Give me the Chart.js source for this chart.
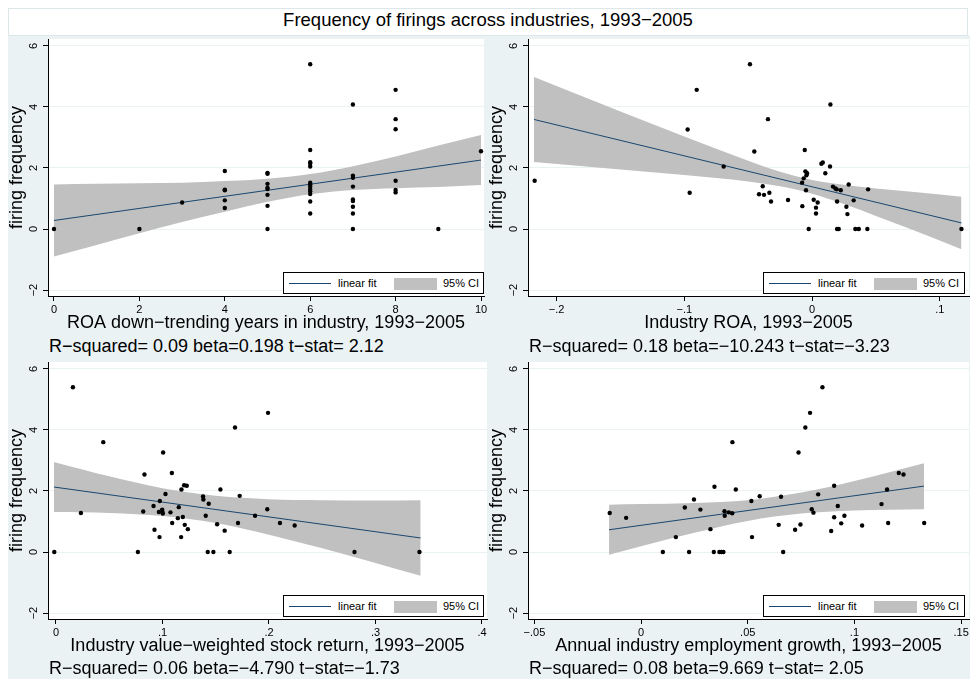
<!DOCTYPE html>
<html>
<head>
<meta charset="utf-8">
<title>Frequency of firings across industries</title>
<script src="https://cdn.jsdelivr.net/npm/chart.js@4.4.0/dist/chart.umd.min.js"></script>
<style>
    body { margin: 0; width: 970px; height: 679px; overflow: hidden; background: #fff; position: relative;
           font-family: "Liberation Sans", Arial, Helvetica, sans-serif; color: #000; }
    #bg { position: absolute; left: 8px; top: 35px; width: 962px; height: 644px; background: #eaf2f3; }
    #titleBand { position: absolute; left: 8px; top: 8px; width: 960px; height: 28px; background: #fff;
                 border: 1px solid #dde7e9; box-sizing: border-box; }
    #mainTitle { position: absolute; left: 8px; top: 11px; width: 960px; text-align: center; font-size: 18.5px; line-height: 18px; }
    canvas { position: absolute; }
    .note { position: absolute; font-size: 18px; line-height: 18px; white-space: nowrap; }
    .legend { position: absolute; height: 22px; background: #fff; border: 1px solid #000; box-sizing: border-box; font-size: 11px; }
    .legend .ln { position: absolute; left: 5px; top: 10px; width: 42px; border-top: 1px solid #1a476f; }
    .legend .sw { position: absolute; left: 110px; top: 5px; width: 43px; height: 12px; background: #c0c0c0; }
    .legend span { position: absolute; top: 4px; line-height: 13px; }
</style>
</head>
<body>
<div id="bg"></div>
<div id="titleBand"></div>
<div id="mainTitle">Frequency of firings across industries, 1993−2005</div>

<canvas id="p1" width="496" height="301" style="left:0px;top:35px"></canvas>
<canvas id="p2" width="501" height="301" style="left:480px;top:35px"></canvas>
<canvas id="p3" width="499" height="301" style="left:0px;top:358px"></canvas>
<canvas id="p4" width="501" height="301" style="left:480px;top:358px"></canvas>

<div class="legend" style="left:283px;top:272px;width:201px"><div class="ln"></div><span style="left:54px">linear fit</span><div class="sw"></div><span style="left:159px">95% CI</span></div>
<div class="legend" style="left:763px;top:272px;width:202px"><div class="ln"></div><span style="left:54px">linear fit</span><div class="sw"></div><span style="left:159px">95% CI</span></div>
<div class="legend" style="left:283px;top:595px;width:201px"><div class="ln"></div><span style="left:54px">linear fit</span><div class="sw"></div><span style="left:159px">95% CI</span></div>
<div class="legend" style="left:763px;top:595px;width:202px"><div class="ln"></div><span style="left:54px">linear fit</span><div class="sw"></div><span style="left:159px">95% CI</span></div>

<div class="note" style="left:49px;top:337px">R−squared= 0.09 beta=0.198 t−stat= 2.12</div>
<div class="note" style="left:529px;top:337px">R−squared= 0.18 beta=−10.243 t−stat=−3.23</div>
<div class="note" style="left:49px;top:659px">R−squared= 0.06 beta=−4.790 t−stat=−1.73</div>
<div class="note" style="left:529px;top:659px">R−squared= 0.08 beta=9.669 t−stat= 2.05</div>

<script>
// shared y axis
const yTicks = [-2, 0, 2, 4, 6];
const yTickLabels = ['−2', '0', '2', '4', '6'];

// Panel 1: ROA down-trending years
const downYears = [0, 2, 3, 4, 4, 4, 4, 4, 5, 5, 5, 5, 5, 5, 5, 5,
    6, 6, 6, 6, 6, 6, 6, 6, 6, 6, 6, 6, 6, 7, 7, 7, 7, 7, 7, 7, 7, 7,
    8, 8, 8, 8, 8, 8, 9, 10];
const downYearsFreq = [0, 0, 0.87, 1.90, 1.29, 1.27, 0.94, 0.69, 1.84, 1.81, 1.48, 1.35, 1.31, 1.12, 0.76, 0,
    5.40, 2.59, 2.19, 2.14, 2.05, 1.52, 1.46, 1.39, 1.31, 1.24, 1.15, 0.90, 0.51,
    4.08, 1.75, 1.68, 1.39, 0.97, 0.92, 0.73, 0.51, 0,
    4.56, 3.60, 3.27, 1.58, 1.28, 1.20, 0, 2.55];
const downFitX = [0, 10];
const downFitY = [0.28, 2.26];
const downCiX = [0, 1, 2, 3, 4, 5, 6, 7, 8, 9, 10];
const downCiHigh = [1.46, 1.48, 1.50, 1.52, 1.57, 1.65, 1.80, 2.06, 2.38, 2.74, 3.08];
const downCiLow = [-0.90, -0.52, -0.14, 0.23, 0.57, 0.89, 1.14, 1.28, 1.34, 1.38, 1.44];
const downXTicks = [0, 2, 4, 6, 8, 10];
const downXLabels = ['0', '2', '4', '6', '8', '10'];

// Panel 2: industry ROA
const indRoa = [-0.2172, -0.0974, -0.0958, -0.0903, -0.0692, -0.0486, -0.0452, -0.0415, -0.0386, -0.0376,
    -0.0345, -0.0334, -0.0321, -0.0188, -0.0078, -0.0076, -0.0065, -0.0057, -0.0052, -0.0044,
    -0.0039, -0.0047, -0.0026, 0.0013, 0.0031, 0.0031, 0.0044, 0.0073, 0.0084, 0.0104,
    0.0141, 0.0144, 0.0164, 0.0183, 0.0193, 0.0196, 0.0196, 0.0209, 0.0225, 0.0269,
    0.0277, 0.0287, 0.0326, 0.0339, 0.0366, 0.0433, 0.0439, 0.117];
const indRoaFreq = [1.58, 3.26, 1.19, 4.56, 2.05, 5.40, 2.54, 1.14, 1.40, 1.12,
    3.60, 1.19, 0.90, 0.95, 1.52, 0.75, 1.66, 2.59, 1.89, 1.76,
    1.83, 1.27, 0, 0.96, 0.70, 0.51, 0.87, 2.14, 2.18, 1.83,
    2.05, 4.08, 1.39, 1.33, 1.30, 0.90, 0, 0, 1.27, 0.73,
    0.49, 1.46, 0.94, 0, 0, 0, 1.30, 0];
const roaFitX = [-0.2177, 0.117];
const roaFitY = [3.59, 0.20];
const roaCiX = [-0.2177, -0.15, -0.1, -0.05, -0.025, 0, 0.025, 0.05, 0.08, 0.117];
const roaCiHigh = [4.98, 3.85, 3.03, 2.24, 1.88, 1.61, 1.45, 1.33, 1.21, 1.06];
const roaCiLow = [2.20, 1.95, 1.77, 1.56, 1.40, 1.16, 0.82, 0.43, -0.05, -0.66];
const roaXTicks = [-0.2, -0.1, 0, 0.1];
const roaXLabels = ['−.2', '−.1', '0', '.1'];

// Panel 3: value-weighted stock return
const stockRet = [-0.0016, 0.0159, 0.0234, 0.0444, 0.0769, 0.0819, 0.0831, 0.0916, 0.0925, 0.0966,
    0.0972, 0.0975, 0.0997, 0.1000, 0.1003, 0.1006, 0.1028, 0.1075, 0.1088, 0.1091,
    0.1144, 0.1153, 0.1175, 0.1178, 0.1191, 0.1203, 0.1209, 0.1228, 0.1238, 0.1381,
    0.1384, 0.1406, 0.1425, 0.1434, 0.1478, 0.1513, 0.1544, 0.1584, 0.1631, 0.1681,
    0.1709, 0.1725, 0.1869, 0.1984, 0.1991, 0.2103, 0.2241, 0.2803, 0.3413];
const stockRetFreq = [0, 5.40, 1.28, 3.60, 0, 1.33, 2.54, 1.51, 0.73, 1.31,
    0.49, 1.67, 1.39, 1.31, 1.26, 3.26, 1.90, 1.30, 2.59, 0.95,
    1.11, 1.47, 0.49, 2.05, 1.15, 2.19, 0.89, 2.17, 0.75, 1.82,
    1.72, 1.19, 0, 1.58, 0, 0.91, 2.05, 0.70, 0, 4.08,
    0.95, 1.84, 1.19, 1.40, 4.56, 0.95, 0.87, 0, 0];
const retFitX = [-0.0019, 0.3424];
const retFitY = [2.13, 0.46];
const retCiX = [-0.0019, 0.05, 0.1, 0.125, 0.15, 0.2, 0.25, 0.3, 0.3424];
const retCiHigh = [2.95, 2.48, 2.09, 1.95, 1.84, 1.73, 1.70, 1.69, 1.70];
const retCiLow = [1.31, 1.28, 1.18, 1.08, 0.95, 0.57, 0.12, -0.36, -0.78];
const retXTicks = [0, 0.1, 0.2, 0.3, 0.4];
const retXLabels = ['0', '.1', '.2', '.3', '.4'];

// Panel 4: employment growth
const empGrowth = [-0.0147, -0.0070, 0.0102, 0.0163, 0.0205, 0.0225, 0.0248, 0.0278, 0.0325, 0.0341,
    0.0344, 0.0367, 0.0377, 0.0386, 0.0391, 0.0392, 0.0411, 0.0427, 0.0428, 0.0444,
    0.0517, 0.0520, 0.0556, 0.0645, 0.0656, 0.0666, 0.0722, 0.0738, 0.0747, 0.0770,
    0.0792, 0.0800, 0.0808, 0.0830, 0.0850, 0.0891, 0.0905, 0.0905, 0.0922, 0.0938,
    0.0953, 0.1036, 0.1127, 0.1153, 0.1158, 0.1208, 0.1230, 0.1327];
const empGrowthFreq = [1.28, 1.12, 0, 0.49, 1.46, 0, 1.72, 1.39, 0.75, 0,
    2.14, 0, 0, 0, 1.34, 1.19, 1.30, 1.27, 3.60, 2.05,
    1.67, 0.49, 1.83, 0.89, 1.81, 0, 0.73, 3.26, 0.90, 4.08,
    4.56, 1.40, 1.29, 1.89, 5.40, 0.69, 2.17, 1.14, 1.51, 0.94,
    1.19, 0.87, 1.57, 2.05, 0.95, 2.59, 2.54, 0.95];
const empFitX = [-0.015, 0.1326];
const empFitY = [0.73, 2.16];
const empCiX = [-0.015, 0, 0.025, 0.05, 0.075, 0.1, 0.1326];
const empCiHigh = [1.55, 1.57, 1.61, 1.70, 1.95, 2.33, 2.91];
const empCiLow = [-0.09, 0.19, 0.63, 1.02, 1.26, 1.36, 1.40];
const empXTicks = [-0.05, 0, 0.05, 0.1, 0.15];
const empXLabels = ['−.05', '0', '.05', '.1', '.15'];

const fontFamily = '"Liberation Sans", Arial, Helvetica, sans-serif';
Chart.defaults.font.family = fontFamily;
Chart.defaults.color = '#000';

const pts = (xs, ys) => xs.map((x, i) => ({ x: x, y: ys[i] }));

// white plot region, Stata style
const plotRegion = {
    id: 'plotRegion',
    beforeDraw(chart) {
        const { ctx, chartArea: a } = chart;
        ctx.save();
        ctx.fillStyle = '#fff';
        ctx.fillRect(a.left, a.top, a.right - a.left, a.bottom - a.top);
        ctx.restore();
    }
};

// y tick labels are rotated in the original
const rotatedYLabels = {
    id: 'rotatedYLabels',
    afterDraw(chart) {
        const { ctx } = chart;
        const s = chart.scales.y;
        ctx.save();
        ctx.fillStyle = '#000';
        ctx.font = '11px ' + fontFamily;
        ctx.textAlign = 'center';
        ctx.textBaseline = 'middle';
        yTicks.forEach((v, i) => {
            ctx.save();
            ctx.translate(s.right - 14.5, s.getPixelForValue(v));
            ctx.rotate(-Math.PI / 2);
            ctx.fillText(yTickLabels[i], 0, 0);
            ctx.restore();
        });
        ctx.restore();
    }
};

function makePanel(id, p) {
    return new Chart(document.getElementById(id), {
        type: 'scatter',
        data: {
            datasets: [
                {
                    data: pts(p.xs, p.ys),
                    backgroundColor: '#000',
                    borderWidth: 0,
                    pointRadius: 2.2
                },
                {
                    type: 'line',
                    data: pts(p.fitX, p.fitY),
                    borderColor: '#1a476f',
                    borderWidth: 1,
                    pointRadius: 0,
                    fill: false
                },
                {
                    type: 'line',
                    data: pts(p.ciX, p.ciHigh),
                    borderColor: 'transparent',
                    borderWidth: 0,
                    backgroundColor: '#c0c0c0',
                    pointRadius: 0,
                    cubicInterpolationMode: 'monotone',
                    fill: '+1'
                },
                {
                    type: 'line',
                    data: pts(p.ciX, p.ciLow),
                    borderColor: 'transparent',
                    borderWidth: 0,
                    pointRadius: 0,
                    cubicInterpolationMode: 'monotone',
                    fill: false
                }
            ]
        },
        options: {
            responsive: false,
            animation: false,
            layout: { padding: { left: 0, top: 0, right: 12, bottom: 0 } },
            plugins: {
                legend: { display: false },
                tooltip: { enabled: false }
            },
            scales: {
                x: {
                    type: 'linear',
                    min: p.xMin,
                    max: p.xMax,
                    afterBuildTicks: s => { s.ticks = p.xTicks.map(v => ({ value: v })); },
                    afterFit: s => { s.height = 40; },
                    grid: { drawOnChartArea: false, tickLength: 5, tickColor: '#000' },
                    border: { display: true, color: '#000', width: 1 },
                    ticks: {
                        autoSkip: false, maxRotation: 0, minRotation: 0, padding: 2,
                        font: { size: 11 },
                        callback: (v, i) => p.xLabels[i]
                    },
                    title: { display: true, text: p.xTitle, font: { size: 18 }, padding: { top: 0, bottom: 2 } }
                },
                y: {
                    type: 'linear',
                    min: -2.194,
                    max: 6.226,
                    afterBuildTicks: s => { s.ticks = yTicks.map(v => ({ value: v })); },
                    afterFit: s => { s.width = 48; },
                    grid: { color: '#eaf2f3', lineWidth: 1, tickLength: 5, tickColor: '#000' },
                    border: { display: true, color: '#000', width: 1 },
                    ticks: { display: false },
                    title: { display: true, text: 'firing frequency', font: { size: 18 }, padding: { top: 6.3, bottom: 0 } }
                }
            }
        },
        plugins: [plotRegion, rotatedYLabels]
    });
}

makePanel('p1', {
    xs: downYears, ys: downYearsFreq, fitX: downFitX, fitY: downFitY,
    ciX: downCiX, ciHigh: downCiHigh, ciLow: downCiLow,
    xMin: -0.1405, xMax: 10.07, xTicks: downXTicks, xLabels: downXLabels,
    xTitle: 'ROA down−trending years in industry, 1993−2005'
});
makePanel('p2', {
    xs: indRoa, ys: indRoaFreq, fitX: roaFitX, fitY: roaFitY,
    ciX: roaCiX, ciHigh: roaCiHigh, ciLow: roaCiLow,
    xMin: -0.2224, xMax: 0.1229, xTicks: roaXTicks, xLabels: roaXLabels,
    xTitle: 'Industry ROA, 1993−2005'
});
makePanel('p3', {
    xs: stockRet, ys: stockRetFreq, fitX: retFitX, fitY: retFitY,
    ciX: retCiX, ciHigh: retCiHigh, ciLow: retCiLow,
    xMin: -0.0075, xMax: 0.4047, xTicks: retXTicks, xLabels: retXLabels,
    xTitle: 'Industry value−weighted stock return, 1993−2005'
});
makePanel('p4', {
    xs: empGrowth, ys: empGrowthFreq, fitX: empFitX, fitY: empFitY,
    ciX: empCiX, ciHigh: empCiHigh, ciLow: empCiLow,
    xMin: -0.053, xMax: 0.1537, xTicks: empXTicks, xLabels: empXLabels,
    xTitle: 'Annual industry employment growth, 1993−2005'
});
</script>
</body>
</html>
